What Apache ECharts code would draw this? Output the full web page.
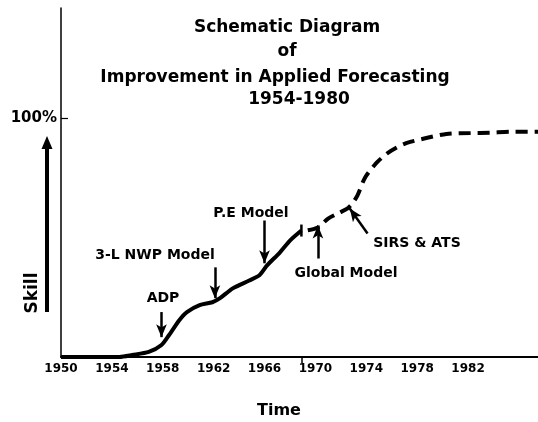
<!DOCTYPE html>
<html>
<head>
<meta charset="utf-8">
<script src="https://cdn.jsdelivr.net/npm/echarts@6/dist/echarts.min.js"></script>
<style>
  html, body { margin: 0; padding: 0; background: #fff; }
  #chart { width: 538px; height: 422px; }
</style>
</head>
<body>
<div id="chart"></div>
<script>
// ---- data ----
const titleLines = ['Schematic Diagram', 'of', 'Improvement in Applied Forecasting', '1954-1980'];
const yearTicks = [1950, 1954, 1958, 1962, 1966, 1970, 1974, 1978, 1982];
const skillTicks = [100];

// observed skill (solid curve)
const observedYears = [1950, 1954.6, 1955.6, 1956.9, 1957.9, 1958.5, 1959.3, 1959.9, 1960.9, 1961.9, 1962.5, 1963.5, 1964.8, 1965.6, 1966.2, 1967.2, 1968.0, 1968.9];
const observedSkill = [0, 0, 0.8, 2.1, 5.0, 9.2, 15.4, 18.8, 21.7, 22.9, 24.6, 28.7, 32.0, 34.2, 38.3, 43.7, 48.7, 52.9];

// projected skill (dashed curve)
const projectedYears = [1969.4, 1970.2, 1971.0, 1971.9, 1972.5, 1972.9, 1973.3, 1973.9, 1974.8, 1975.7, 1977.0, 1978.8, 1980.3, 1982.2, 1983.7, 1985.3, 1987.5];
const projectedSkill = [53.0, 54.2, 57.9, 60.4, 62.1, 64.2, 67.5, 75.0, 81.2, 85.4, 89.2, 91.7, 93.3, 93.7, 93.8, 94.2, 94.2];

// events: arrow tail and head in [year, skill]
const eventNames = ['ADP', '3-L NWP Model', 'P.E Model', 'Global Model', 'SIRS & ATS'];
const eventTails = [[1957.9, 18.8], [1962.1, 37.5], [1966.0, 57.1], [1970.2, 41.2], [1974.1, 51.7]];
const eventHeads = [[1957.9, 8.3], [1962.1, 24.6], [1966.0, 39.2], [1970.2, 55.0], [1972.7, 62.1]];

// ---- layout of annotation texts (pixel centres) ----
const eventLabelPos = [[163, 298], [155, 255], [251, 213], [346, 273], [417, 243]];
const titlePos = [[287, 28], [287, 52], [275, 78], [299, 100]];

const font = '"DejaVu Sans", sans-serif';
const chart = echarts.init(document.getElementById('chart'));

const txt = (text, x, y, size, extra) => Object.assign({
  type: 'text', x: x, y: y, silent: true,
  style: { text: text, fill: '#000', font: 'bold ' + size + 'px ' + font, align: 'center', verticalAlign: 'middle' }
}, extra || {});

const graphics = [];
titleLines.forEach((t, i) => graphics.push(txt(t, titlePos[i][0], titlePos[i][1], 17)));
eventNames.forEach((t, i) => graphics.push(txt(t, eventLabelPos[i][0], eventLabelPos[i][1], 14)));
graphics.push(txt('Time', 279, 411, 16));
graphics.push(txt('Skill', 33, 293, 17, { rotation: Math.PI / 2 }));
// big "Skill" arrow
graphics.push({ type: 'rect', silent: true, shape: { x: 45, y: 146, width: 4, height: 166 }, style: { fill: '#000' } });
graphics.push({ type: 'polygon', silent: true, shape: { points: [[47, 136], [41.5, 149], [52.5, 149]] }, style: { fill: '#000' } });

const observedData = observedYears.map((y, i) => [y, observedSkill[i]]);
const lastObs = observedData.length - 1;
observedData[lastObs] = { value: observedData[lastObs], symbol: 'rect', symbolSize: [2.5, 12] };

chart.setOption({
  animation: false,
  backgroundColor: '#fff',
  grid: { left: 61, right: 0, top: 8, bottom: 65, containLabel: false },
  xAxis: {
    type: 'value', min: 1950, max: 1987.5, interval: 4,
    axisLine: { lineStyle: { color: '#000', width: 2 } },
    axisTick: { show: true, customValues: [observedYears[lastObs]], length: 6, lineStyle: { color: '#000', width: 1.5 } },
    axisLabel: {
      color: '#000', fontFamily: font, fontWeight: 'bold', fontSize: 12, margin: 6,
      showMaxLabel: false,
      formatter: v => (yearTicks.indexOf(v) >= 0 ? String(v) : '')
    },
    splitLine: { show: false }
  },
  yAxis: {
    type: 'value', min: 0, max: 146, interval: 100,
    axisLine: { show: true, lineStyle: { color: '#000', width: 1.5 } },
    axisTick: { show: true, inside: true, length: 7, customValues: skillTicks, lineStyle: { color: '#000', width: 1.2 } },
    axisLabel: {
      color: '#000', fontFamily: font, fontWeight: 'bold', fontSize: 15, margin: 4,
      showMaxLabel: false,
      formatter: v => (skillTicks.indexOf(v) >= 0 ? v + '%' : '')
    },
    splitLine: { show: false }
  },
  series: [
    {
      type: 'line', data: observedData, smooth: 0.25,
      showSymbol: true, symbol: 'none', itemStyle: { color: '#000' },
      lineStyle: { color: '#000', width: 4 },
      markLine: {
        silent: true, symbol: ['none', 'arrow'], symbolSize: [8, 13], precision: 2,
        label: { show: false },
        lineStyle: { color: '#000', width: 2.5, type: 'solid' },
        data: eventNames.map((n, i) => [{ coord: eventTails[i] }, { coord: eventHeads[i] }])
      }
    },
    {
      type: 'line', data: projectedYears.map((y, i) => [y, projectedSkill[i]]), smooth: 0.25,
      symbol: 'none',
      lineStyle: { color: '#000', width: 4, type: [12, 7] }
    }
  ],
  graphic: graphics
});
</script>
</body>
</html>
